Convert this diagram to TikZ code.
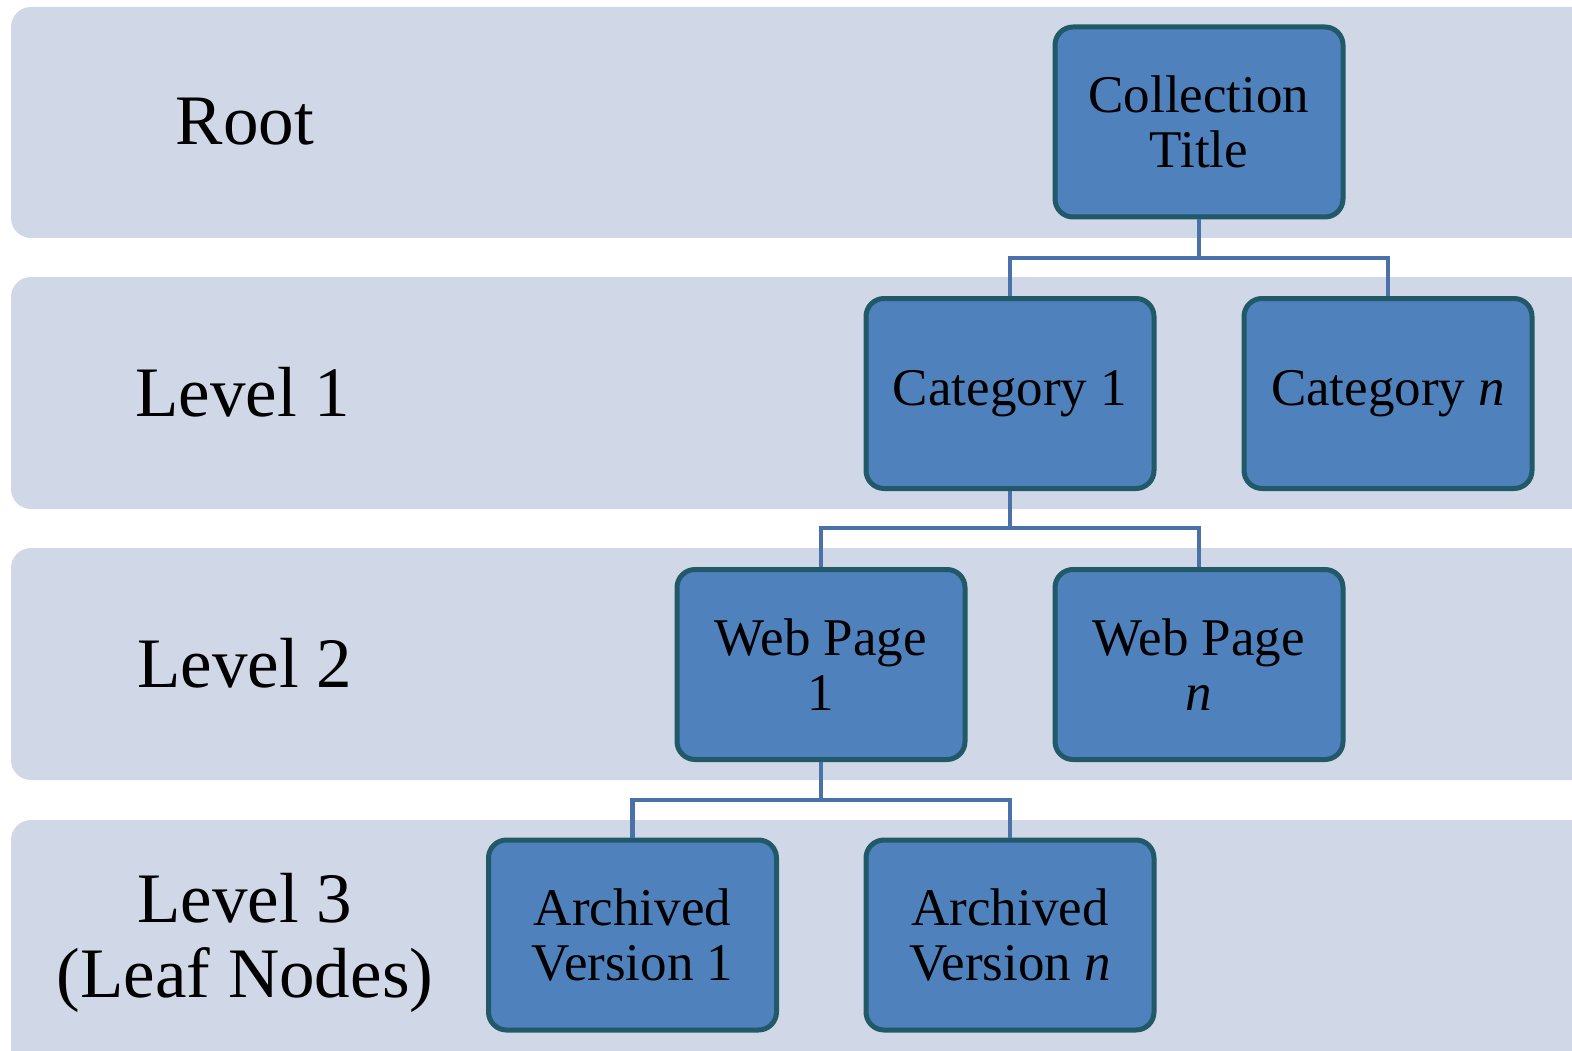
\documentclass[tikz,border=0pt]{standalone}
\usepackage{fontspec}
\setmainfont{Liberation Serif}
\definecolor{bandc}{HTML}{D0D8E8}
\definecolor{boxfill}{HTML}{4F81BD}
\definecolor{boxline}{HTML}{215968}
\definecolor{linkc}{HTML}{4A72A8}
\begin{document}
\begin{tikzpicture}[x=1pt,y=-1pt,
  band/.style={fill=bandc, draw=none, rounded corners=20pt},
  box/.style={draw=boxline, line width=5pt, fill=boxfill, rounded corners=18pt,
    minimum width=288pt, minimum height=190pt, inner sep=0pt, align=center,
    font=\fontsize{53}{55}\selectfont},
  lvl/.style={align=center, font=\fontsize{71}{75}\selectfont},
  link/.style={draw=linkc, line width=4.5pt}]
\useasboundingbox (0,0) rectangle (1572,1051);
\clip (0,0) rectangle (1572,1051);
\fill[band] (11,7) rectangle (1610,238);
\fill[band] (11,277) rectangle (1610,509);
\fill[band] (11,548) rectangle (1610,780);
\fill[band] (11,820) rectangle (1610,1090);

\node[lvl] (l0) at (245,122) {Root};
\node[lvl] (l1) at (243,392) {Level 1};
\node[lvl] (l2) at (245,663) {Level 2};
\node[lvl] (l3) at (245,943) {Level 3\\(Leaf Nodes)};

\node[box] (ct) at (1199,122) {Collection\\Title};
\node[box] (c1) at (1010,393.5) {Category 1};
\node[box] (cn) at (1388,393.5) {Category \textit{n}};
\node[box] (w1) at (821,664.5) {Web Page\\1};
\node[box] (wn) at (1199,664.5) {Web Page\\\textit{n}};
\node[box] (a1) at (632.5,935) {Archived\\Version 1};
\node[box] (an) at (1010,935) {Archived\\Version \textit{n}};

\coordinate (j0) at (1199,258);
\coordinate (j1) at (1010,528);
\coordinate (j2) at (821,800);

\draw[link] (ct.south) -- (j0);
\draw[link] (c1.north) |- (j0) -| (cn.north);
\draw[link] (c1.south) -- (j1);
\draw[link] (w1.north) |- (j1) -| (wn.north);
\draw[link] (w1.south) -- (j2);
\draw[link] (a1.north) |- (j2) -| (an.north);
\end{tikzpicture}
\end{document}
